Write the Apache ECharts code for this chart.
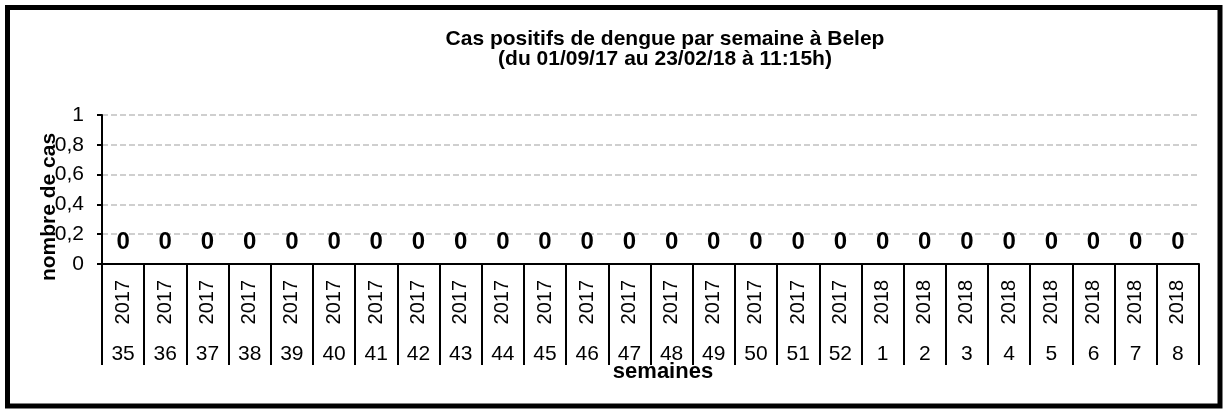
<!DOCTYPE html>
<html>
<head>
<meta charset="utf-8">
<script src="https://cdn.jsdelivr.net/npm/echarts@6/dist/echarts.min.js"></script>
<style>
  html, body { margin: 0; padding: 0; background: #fff; }
  #main { width: 1223px; height: 410px; }
</style>
</head>
<body>
<div id="main"></div>
<script>
// semaines épidémiologiques (année / numéro)
var annees = ['2017', '2017', '2017', '2017', '2017', '2017', '2017', '2017', '2017',
  '2017', '2017', '2017', '2017', '2017', '2017', '2017', '2017', '2017',
  '2018', '2018', '2018', '2018', '2018', '2018', '2018', '2018'];
var semaines = ['35', '36', '37', '38', '39', '40', '41', '42', '43', '44', '45', '46', '47',
  '48', '49', '50', '51', '52', '1', '2', '3', '4', '5', '6', '7', '8'];
// cas positifs par semaine
var cas = [0, 0, 0, 0, 0, 0, 0, 0, 0, 0, 0, 0, 0, 0, 0, 0, 0, 0, 0, 0, 0, 0, 0, 0, 0, 0];

var police = 'Liberation Sans, Arial, sans-serif';

var chart = echarts.init(document.getElementById('main'));

var option = {
  backgroundColor: '#fff',
  animation: false,
  title: {
    text: 'Cas positifs de dengue par semaine à Belep\n(du 01/09/17 au 23/02/18 à 11:15h)',
    left: 660,
    top: 24,
    textAlign: 'center',
    textStyle: { fontFamily: police, fontSize: 21, fontWeight: 'bold', color: '#000', lineHeight: 20 }
  },
  grid: { left: 102, right: 24, top: 115, bottom: 146 },
  xAxis: [
    {
      type: 'category',
      data: annees,
      position: 'bottom',
      axisLine: { lineStyle: { color: '#000', width: 2 } },
      axisTick: { show: true, interval: 0, length: 101, lineStyle: { color: '#000', width: 2 } },
      axisLabel: { interval: 0, rotate: 90, margin: 16, color: '#000', fontFamily: police, fontSize: 20 }
    },
    {
      type: 'category',
      data: semaines,
      position: 'bottom',
      axisLine: { show: false },
      axisTick: { show: false },
      axisLabel: { interval: 0, margin: 80, color: '#000', fontFamily: police, fontSize: 21 }
    }
  ],
  yAxis: {
    type: 'value',
    min: 0,
    max: 1,
    interval: 0.2,
    axisLine: { show: true, lineStyle: { color: '#000', width: 2 } },
    axisTick: { show: true, length: 5, lineStyle: { color: '#000', width: 2 } },
    axisLabel: {
      color: '#000', fontFamily: police, fontSize: 21, margin: 18,
      formatter: function (v) { return String(Math.round(v * 10) / 10).replace('.', ','); }
    },
    splitLine: { show: true, lineStyle: { color: '#c0c0c0', type: [6, 3], width: 1.5 } }
  },
  series: [
    {
      name: 'cas',
      type: 'bar',
      xAxisIndex: 0,
      data: cas,
      itemStyle: { color: '#4f81bd' },
      label: {
        show: true,
        position: 'top',
        distance: 10,
        color: '#000',
        fontFamily: police,
        fontSize: 24,
        fontWeight: 'bold'
      }
    }
  ],
  graphic: [
    {
      type: 'rect',
      shape: { x: 7.5, y: 7.5, width: 1212.5, height: 398.5 },
      style: { fill: 'none', stroke: '#000', lineWidth: 5 },
      silent: true
    },
    {
      type: 'text',
      x: 49,
      y: 207,
      rotation: Math.PI / 2,
      style: {
        text: 'nombre de cas',
        font: 'bold 21px ' + police,
        fill: '#000',
        align: 'center',
        verticalAlign: 'middle',
        textAlign: 'center',
        textVerticalAlign: 'middle'
      }
    },
    {
      type: 'text',
      x: 663,
      y: 372,
      style: {
        text: 'semaines',
        font: 'bold 22px ' + police,
        fill: '#000',
        align: 'center',
        verticalAlign: 'middle',
        textAlign: 'center',
        textVerticalAlign: 'middle'
      }
    }
  ]
};

chart.setOption(option);
</script>
</body>
</html>
